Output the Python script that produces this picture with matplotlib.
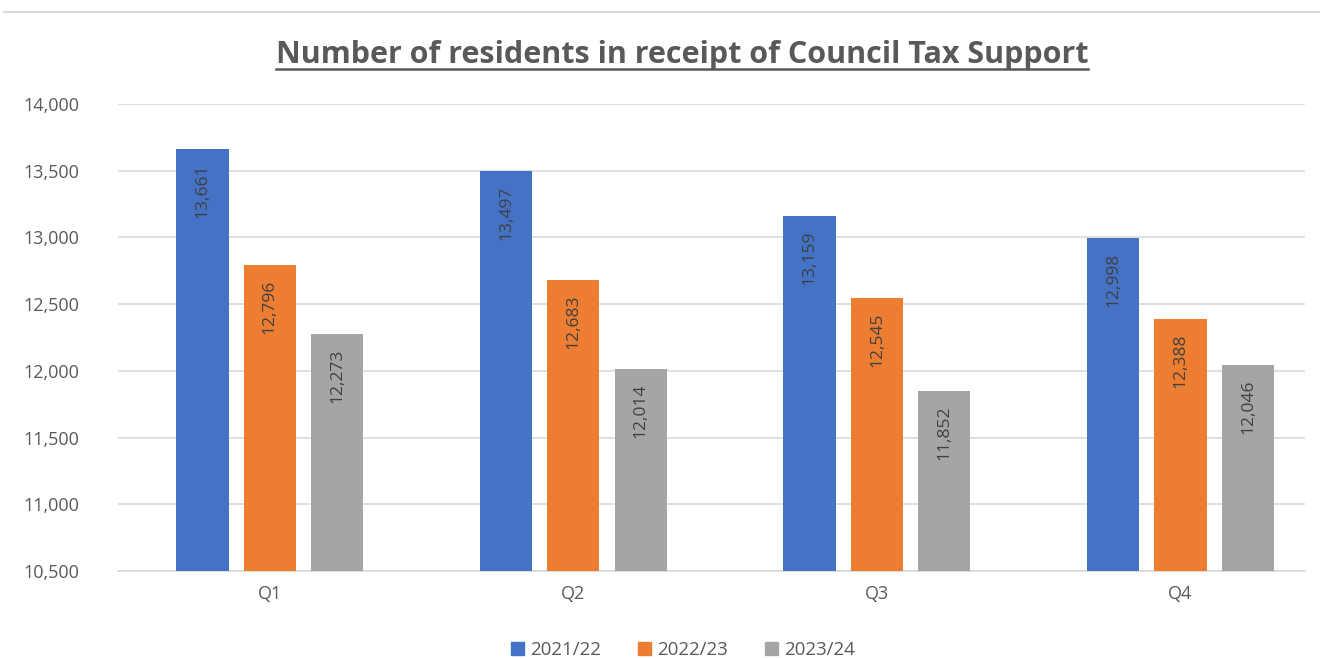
import numpy as np
import matplotlib
matplotlib.use("Agg")
import matplotlib.pyplot as plt
from matplotlib.lines import Line2D

quarters = ["Q1", "Q2", "Q3", "Q4"]
series = ["2021/22", "2022/23", "2023/24"]
v2122 = [13661, 13497, 13159, 12998]
v2223 = [12796, 12683, 12545, 12388]
v2324 = [12273, 12014, 11852, 12046]
colors = ["#4472C4", "#ED7D31", "#A5A5A5"]

plt.rcParams["font.family"] = ["Open Sans", "DejaVu Sans"]
txt = "#595959"

fig = plt.figure(figsize=(13.2, 6.58), dpi=100)
ax = fig.add_axes([118/1320, 1-571/658, (1305-118)/1320, (571-104)/658])

x = np.arange(len(quarters))
w = 0.172
step = 0.222
for i, (name, vals) in enumerate(zip(series, [v2122, v2223, v2324])):
    bars = ax.bar(x + (i-1)*step, vals, width=w, color=colors[i], label=name, zorder=3)
    for b, v in zip(bars, vals):
        ax.text(b.get_x()+b.get_width()/2, v - 110, f"{v:,}", rotation=90, ha="center", va="top",
                fontsize=12.5, color="#404040", zorder=4)

ax.set_ylim(10500, 14000)
ax.set_xlim(-0.5, 3.41)
ax.set_yticks(np.arange(10500, 14001, 500))
ax.yaxis.set_major_formatter(matplotlib.ticker.FuncFormatter(lambda v, p: f"{int(v):,}"))
ax.set_xticks(x)
ax.set_xticklabels(quarters)
ax.tick_params(axis="both", length=0, labelsize=13, colors=txt)
ax.tick_params(axis="y", pad=28)
ax.tick_params(axis="x", pad=10)
ax.grid(axis="y", color="#D9D9D9", linewidth=1.2, zorder=0)
for s in ["top", "right", "left"]:
    ax.spines[s].set_visible(False)
ax.spines["bottom"].set_color("#D9D9D9")
ax.spines["bottom"].set_linewidth(1.2)

title = fig.text(682/1320, 1-55/658, "Number of residents in receipt of Council Tax Support",
                 ha="center", va="center", fontsize=22, fontweight="bold", color=txt)
fig.canvas.draw()
bb = title.get_window_extent().transformed(fig.transFigure.inverted())
fig.add_artist(Line2D([bb.x0, bb.x1], [bb.y0 + 0.002, bb.y0 + 0.002], color=txt, linewidth=1.8))

fig.add_artist(Line2D([0.003, 1], [1-12/658, 1-12/658], color="#D9D9D9", linewidth=1.5))

handles = [plt.Rectangle((0, 0), 1, 1, color=c) for c in colors]
fig.legend(handles, series, loc="center", bbox_to_anchor=(683/1320, 1-650/658), ncol=3, frameon=False,
           fontsize=13.5, labelcolor=txt, handlelength=0.7, handleheight=0.7, handletextpad=0.3, columnspacing=2.0)

fig.savefig("out.png", dpi=100)
